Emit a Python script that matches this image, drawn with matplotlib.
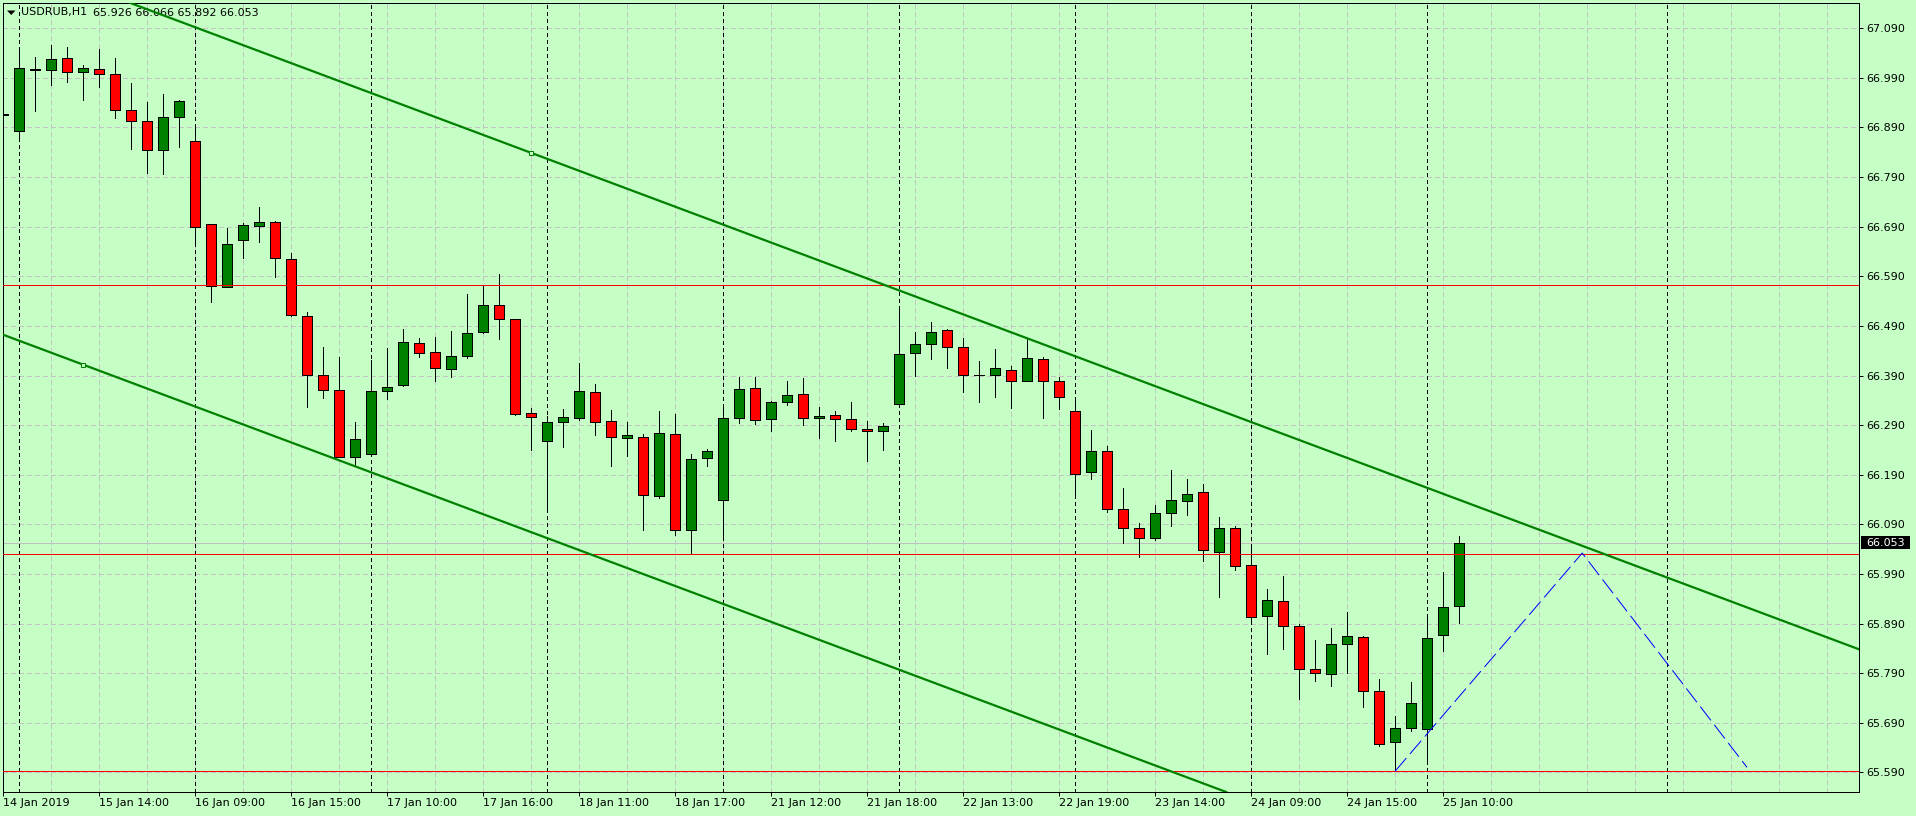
import matplotlib
matplotlib.use('Agg')
import matplotlib.pyplot as plt
from matplotlib.patches import Rectangle, Polygon
from matplotlib.transforms import IdentityTransform

plt.rcParams['font.family'] = ['DejaVu Sans']
plt.rcParams['lines.scale_dashes'] = False

# ---------------- data ----------------
symbol = "USDRUB,H1"
header_values = "65.926 66.066 65.892 66.053"

opens = [66.916, 66.882, 67.005, 67.005, 67.030, 67.001, 67.007, 66.997, 66.925, 66.903,
         66.844, 66.911, 66.862, 66.695, 66.568, 66.663, 66.691, 66.699, 66.624, 66.509,
         66.392, 66.360, 66.225, 66.231, 66.358, 66.370, 66.455, 66.437, 66.403, 66.429,
         66.477, 66.532, 66.503, 66.314, 66.257, 66.296, 66.304, 66.356, 66.298, 66.265,
         66.267, 66.148, 66.273, 66.078, 66.223, 66.138, 66.304, 66.364, 66.302, 66.336,
         66.352, 66.304, 66.310, 66.302, 66.282, 66.278, 66.332, 66.435, 66.453, 66.481,
         66.447, 66.392, 66.392, 66.401, 66.378, 66.423, 66.378, 66.318, 66.195, 66.237,
         66.120, 66.082, 66.062, 66.112, 66.136, 66.155, 66.034, 66.082, 66.007, 65.905,
         65.935, 65.884, 65.798, 65.788, 65.848, 65.862, 65.753, 65.652, 65.679, 65.677,
         65.866, 65.926]
highs = [66.950, 67.048, 67.032, 67.056, 67.052, 67.016, 67.048, 67.030, 66.980, 66.941,
         66.958, 66.945, 66.888, 66.695, 66.687, 66.697, 66.729, 66.701, 66.636, 66.519,
         66.447, 66.427, 66.296, 66.421, 66.445, 66.483, 66.465, 66.467, 66.479, 66.554,
         66.572, 66.594, 66.503, 66.324, 66.308, 66.322, 66.415, 66.372, 66.320, 66.296,
         66.273, 66.318, 66.312, 66.231, 66.241, 66.324, 66.386, 66.386, 66.338, 66.378,
         66.384, 66.326, 66.318, 66.336, 66.298, 66.294, 66.526, 66.477, 66.497, 66.483,
         66.465, 66.419, 66.443, 66.409, 66.463, 66.427, 66.386, 66.344, 66.280, 66.247,
         66.163, 66.092, 66.128, 66.199, 66.181, 66.171, 66.104, 66.086, 66.042, 65.959,
         65.985, 65.890, 65.856, 65.880, 65.913, 65.864, 65.779, 65.703, 65.773, 65.909,
         65.993, 66.066]
lows = [66.861, 66.871, 66.924, 66.976, 66.982, 66.946, 66.972, 66.910, 66.847, 66.799,
        66.797, 66.851, 66.654, 66.539, 66.568, 66.626, 66.660, 66.589, 66.509, 66.327,
        66.345, 66.225, 66.209, 66.231, 66.342, 66.368, 66.427, 66.378, 66.386, 66.425,
        66.475, 66.464, 66.311, 66.240, 66.121, 66.246, 66.300, 66.271, 66.208, 66.228,
        66.079, 66.144, 66.068, 66.030, 66.207, 66.061, 66.294, 66.292, 66.278, 66.330,
        66.290, 66.265, 66.257, 66.278, 66.218, 66.240, 66.332, 66.390, 66.424, 66.406,
        66.357, 66.336, 66.347, 66.325, 66.378, 66.305, 66.323, 66.146, 66.181, 66.114,
        66.052, 66.025, 66.058, 66.086, 66.108, 66.017, 65.944, 65.997, 65.892, 65.829,
        65.839, 65.738, 65.775, 65.765, 65.790, 65.721, 65.644, 65.592, 65.673, 65.610,
        65.835, 65.892]
closes = [66.918, 67.009, 67.007, 67.028, 67.001, 67.009, 66.997, 66.925, 66.903, 66.844,
          66.911, 66.943, 66.689, 66.570, 66.655, 66.693, 66.699, 66.626, 66.511, 66.392,
          66.360, 66.225, 66.261, 66.358, 66.366, 66.457, 66.435, 66.405, 66.429, 66.475,
          66.532, 66.503, 66.313, 66.306, 66.296, 66.306, 66.358, 66.296, 66.267, 66.271,
          66.150, 66.275, 66.078, 66.221, 66.237, 66.304, 66.362, 66.300, 66.336, 66.350,
          66.304, 66.308, 66.302, 66.282, 66.278, 66.288, 66.433, 66.453, 66.477, 66.447,
          66.392, 66.392, 66.405, 66.378, 66.425, 66.378, 66.346, 66.191, 66.237, 66.120,
          66.082, 66.062, 66.112, 66.138, 66.152, 66.038, 66.082, 66.005, 65.903, 65.937,
          65.884, 65.798, 65.790, 65.848, 65.864, 65.753, 65.648, 65.679, 65.729, 65.860,
          65.923, 66.053]

time_tick_bars = [0, 6, 12, 18, 24, 30, 36, 42, 48, 54, 60, 66, 72, 78, 84, 90]
time_tick_labels = ["14 Jan 2019", "15 Jan 14:00", "16 Jan 09:00", "16 Jan 15:00",
                    "17 Jan 10:00", "17 Jan 16:00", "18 Jan 11:00", "18 Jan 17:00",
                    "21 Jan 12:00", "21 Jan 18:00", "22 Jan 13:00", "22 Jan 19:00",
                    "23 Jan 14:00", "24 Jan 09:00", "24 Jan 15:00", "25 Jan 10:00"]
price_ticks = [65.590, 65.690, 65.790, 65.890, 65.990, 66.090, 66.190, 66.290,
               66.390, 66.490, 66.590, 66.690, 66.790, 66.890, 66.990, 67.090]
day_separators = [1, 12, 23, 34, 45, 56, 67, 78, 89, 104]
red_levels = [66.572, 66.030, 65.592]
bid_price = 66.053
upper_anchor = (33, 66.839)
lower_anchor = (5, 66.412)
channel_slope = -0.01206
zigzag_bars = [87, 98.7, 109]
zigzag_prices = [65.592, 66.032, 65.600]

# ---------------- style ----------------
BG = '#c6ffc6'
BULL = '#008000'
BEAR = '#ff0000'
GRID = '#c3c3c3'
PX = 0.72  # one pixel in points

W, H = 1916, 816
fig = plt.figure(figsize=(W / 100, H / 100), dpi=100, facecolor=BG)
ax = fig.add_axes([3 / W, 24 / H, 1856 / W, 789 / H])
ax.set_facecolor(BG)
ax.set_xlim(0, 116)
ax.set_ylim(65.5503, 67.141)

# grid
for gx in range(0, 117, 3):
    ax.axvline(gx, color=GRID, lw=PX, dashes=(2.9, 2.2), zorder=0.5, antialiased=False)
for gy in price_ticks:
    ax.axhline(gy, color=GRID, lw=PX, dashes=(2.9, 2.2), zorder=0.5, antialiased=False)

# day separators
for s in day_separators:
    ax.axvline(s, color='black', lw=PX, dashes=(2.2, 2.2), zorder=0.6, antialiased=False)

# bid line
ax.axhline(bid_price, color='#c0c0c0', lw=PX, zorder=0.8, antialiased=False)

# candles
bw = 0.62
for i, (o, h, l, c) in enumerate(zip(opens, highs, lows, closes)):
    ax.plot([i, i], [l, h], color='black', lw=PX, zorder=2, solid_capstyle='butt',
            antialiased=False)
    col = BULL if c >= o else BEAR
    ax.add_patch(Rectangle((i - bw / 2, min(o, c)), bw, abs(c - o),
                           facecolor=col, edgecolor='black', lw=PX, zorder=3,
                           antialiased=False))

# horizontal levels
for lv in red_levels:
    ax.axhline(lv, color='#ff0000', lw=PX, zorder=3.6, antialiased=False)

# channel
ax.axline(upper_anchor, slope=channel_slope, color='#008000', lw=1.6, zorder=4)
ax.axline(lower_anchor, slope=channel_slope, color='#008000', lw=1.6, zorder=4)
for a in (upper_anchor, lower_anchor):
    ax.plot([a[0]], [a[1]], marker='s', ms=3.2, mfc=BG, mec='#008000', mew=PX, zorder=4.5)

# zigzag projection
ax.plot(zigzag_bars, zigzag_prices, color='#0000ff', lw=PX, dashes=(12.5, 4.0), zorder=4)

# axes / ticks
for sp in ax.spines.values():
    sp.set_color('black')
    sp.set_linewidth(PX)
    sp.set_antialiased(False)
ax.yaxis.tick_right()
ax.set_yticks(price_ticks)
ax.set_yticklabels([f"{p:.3f}" for p in price_ticks])
ax.set_xticks(time_tick_bars)
ax.set_xticklabels(time_tick_labels)
for lab in ax.get_xticklabels():
    lab.set_horizontalalignment('left')
ax.tick_params(axis='y', direction='out', length=3, width=PX, pad=2.5, labelsize=8, colors='black')
ax.tick_params(axis='x', direction='out', length=3, width=PX, pad=1.5, labelsize=8, colors='black')

# bid label
ident = IdentityTransform()
fig.add_artist(Rectangle((1861, H - 549), 49, 13, facecolor='black', edgecolor='none',
                         transform=ident, zorder=5))
fig.text(1866 / W, 1 - 542.5 / H, f"{bid_price:.3f}", color='white', fontsize=8,
         va='center', ha='left', zorder=6)

# header
fig.add_artist(Polygon([[7, H - 10.5], [15.5, H - 10.5], [11.25, H - 15]], closed=True,
                       facecolor='black', edgecolor='none', transform=ident, zorder=5))
ax.text(21.5, H - 12.5, symbol, transform=ident, fontsize=8, va='center', ha='left', zorder=3.5)
ax.text(93, H - 12.5, header_values, transform=ident, fontsize=8, va='center', ha='left', zorder=3.5)

fig.savefig('out.png', dpi=100, facecolor=BG)
